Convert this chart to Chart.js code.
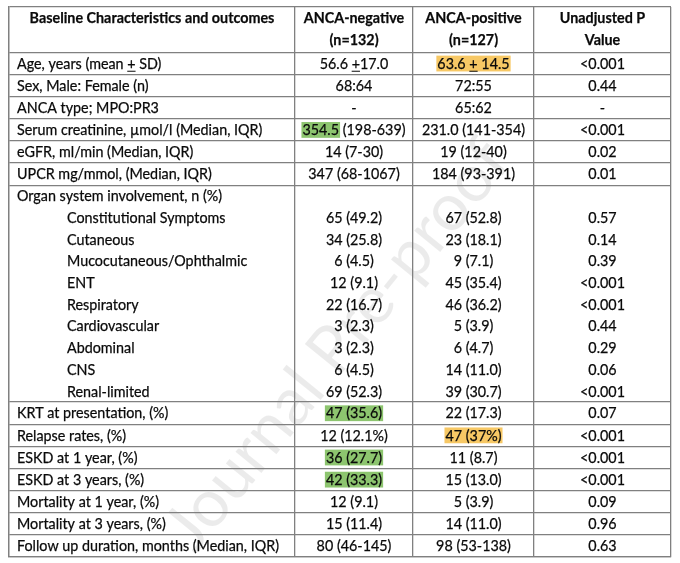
<!DOCTYPE html>
<html>
<head>
<meta charset="utf-8">
<script src="https://cdn.jsdelivr.net/npm/chart.js@4.4.1/dist/chart.umd.min.js"></script>
<style>
  html, body { margin: 0; padding: 0; background: #fff; }
  #wrap { width: 680px; height: 563px; }
</style>
</head>
<body>
<div id="wrap"><canvas id="tableChart"></canvas></div>
<script>
// table content
const headerLines = [
  ['Baseline Characteristics and outcomes'],
  ['ANCA-negative', '(n=132)'],
  ['ANCA-positive', '(n=127)'],
  ['Unadjusted P', 'Value']
];

const characteristics = [
  'Age, years (mean + SD)',
  'Sex, Male: Female (n)',
  'ANCA type; MPO:PR3',
  'Serum creatinine, µmol/l (Median, IQR)',
  'eGFR, ml/min (Median, IQR)',
  'UPCR mg/mmol, (Median, IQR)',
  'Organ system involvement, n (%)',
  'Constitutional Symptoms',
  'Cutaneous',
  'Mucocutaneous/Ophthalmic',
  'ENT',
  'Respiratory',
  'Cardiovascular',
  'Abdominal',
  'CNS',
  'Renal-limited',
  'KRT at presentation, (%)',
  'Relapse rates, (%)',
  'ESKD at 1 year, (%)',
  'ESKD at 3 years, (%)',
  'Mortality at 1 year, (%)',
  'Mortality at 3 years, (%)',
  'Follow up duration, months (Median, IQR)'
];

const ancaNegative = ['56.6 +17.0', '68:64', '-', '354.5 (198-639)', '14 (7-30)', '347 (68-1067)', '',
  '65 (49.2)', '34 (25.8)', '6 (4.5)', '12 (9.1)', '22 (16.7)', '3 (2.3)', '3 (2.3)', '6 (4.5)', '69 (52.3)',
  '47 (35.6)', '12 (12.1%)', '36 (27.7)', '42 (33.3)', '12 (9.1)', '15 (11.4)', '80 (46-145)'];

const ancaPositive = ['63.6 + 14.5', '72:55', '65:62', '231.0 (141-354)', '19 (12-40)', '184 (93-391)', '',
  '67 (52.8)', '23 (18.1)', '9 (7.1)', '45 (35.4)', '46 (36.2)', '5 (3.9)', '6 (4.7)', '14 (11.0)', '39 (30.7)',
  '22 (17.3)', '47 (37%)', '11 (8.7)', '15 (13.0)', '5 (3.9)', '14 (11.0)', '98 (53-138)'];

const pValues = ['<0.001', '0.44', '-', '<0.001', '0.02', '0.01', '',
  '0.57', '0.14', '0.39', '<0.001', '<0.001', '0.44', '0.29', '0.06', '<0.001',
  '0.07', '<0.001', '<0.001', '<0.001', '0.09', '0.96', '0.63'];

// these sit indented inside the "Organ system involvement" cell
const organSystems = ['Constitutional Symptoms', 'Cutaneous', 'Mucocutaneous/Ophthalmic', 'ENT',
  'Respiratory', 'Cardiovascular', 'Abdominal', 'CNS', 'Renal-limited'];
const groupHeading = 'Organ system involvement, n (%)';

const highlights = [
  { row: 'Age, years (mean + SD)', column: 2, text: '63.6 + 14.5', tone: 'orange' },
  { row: 'Serum creatinine, µmol/l (Median, IQR)', column: 1, text: '354.5', tone: 'green' },
  { row: 'KRT at presentation, (%)', column: 1, text: '47 (35.6)', tone: 'green' },
  { row: 'Relapse rates, (%)', column: 2, text: '47 (37%)', tone: 'orange' },
  { row: 'ESKD at 1 year, (%)', column: 1, text: '36 (27.7)', tone: 'green' },
  { row: 'ESKD at 3 years, (%)', column: 1, text: '42 (33.3)', tone: 'green' }
];

const watermark = 'Journal Pre-proof';

// layout
const colWidths = [286, 118, 121, 137];
const headerSpan = 2.05;
const groupLine = 0.98;
const FONT = 'Lato, "Open Sans", sans-serif';
const FONT_SIZE = 15;
const LINE = '#808080';
const TEXT = '#0a0a0a';
const TONES = { green: '#8dc56f', orange: '#f7c865' };

const colEdges = [0];
colWidths.forEach(w => colEdges.push(colEdges[colEdges.length - 1] + w));

const columns = [characteristics, ancaNegative, ancaPositive, pValues];
const inGroup = label => label === groupHeading || organSystems.includes(label);

// row tops/heights in row units, and the borders between rows
const rowTop = [];
const rowHeight = [];
const rowEdges = [0, headerSpan];
let pos = headerSpan;
characteristics.forEach((label, i) => {
  const h = inGroup(label) ? groupLine : 1;
  rowTop.push(pos);
  rowHeight.push(h);
  pos += h;
  const next = characteristics[i + 1];
  if (!(inGroup(label) && next && organSystems.includes(next))) rowEdges.push(pos);
});
const totalRows = pos;

let sx = 1;

function drawText(ctx, str, x, y, align) {
  ctx.save();
  ctx.translate(x, y);
  ctx.scale(sx, 1);
  ctx.textAlign = align;
  ctx.fillText(str, 0, 0);
  ctx.strokeText(str, 0, 0);
  ctx.restore();
}

function textStart(ctx, str, x, align) {
  return align === 'center' ? x - ctx.measureText(str).width * sx / 2 : x;
}

const tablePlugin = {
  id: 'tableCells',
  beforeDraw(chart) {
    const ctx = chart.ctx;
    const a = chart.chartArea;
    ctx.save();
    ctx.font = '100px ' + FONT;
    const size = 100 * 505 / ctx.measureText(watermark).width;
    ctx.font = size + 'px ' + FONT;
    ctx.translate(a.left + 0.496 * (a.right - a.left), a.top + 0.615 * (a.bottom - a.top));
    ctx.rotate(-51 * Math.PI / 180);
    ctx.fillStyle = 'rgba(0,0,0,0.08)';
    ctx.textAlign = 'center';
    ctx.textBaseline = 'middle';
    ctx.fillText(watermark, 0, 0);
    ctx.restore();
  },
  afterDraw(chart) {
    const ctx = chart.ctx;
    const xs = chart.scales.x;
    const ys = chart.scales.y;
    ctx.save();
    ctx.font = FONT_SIZE + 'px ' + FONT;
    sx = 262 / ctx.measureText('Follow up duration, months (Median, IQR)').width;

    const colLeft = c => xs.getPixelForValue(colEdges[c]);
    const colMid = c => xs.getPixelForValue((colEdges[c] + colEdges[c + 1]) / 2);

    // header
    ctx.font = 'bold ' + FONT_SIZE + 'px ' + FONT;
    ctx.fillStyle = TEXT;
    ctx.strokeStyle = TEXT;
    ctx.lineWidth = 0.25;
    ctx.textBaseline = 'alphabetic';
    headerLines.forEach((lines, c) => {
      lines.forEach((str, k) => {
        const y = ys.getPixelForValue(0.5 + k) + 5.3;
        drawText(ctx, str, colMid(c), y, 'center');
      });
    });

    ctx.font = FONT_SIZE + 'px ' + FONT;
    // highlight boxes first
    highlights.forEach(h => {
      const r = characteristics.indexOf(h.row);
      const full = columns[h.column][r];
      const cy = ys.getPixelForValue(rowTop[r] + rowHeight[r] / 2);
      const start = textStart(ctx, full, colMid(h.column), 'center');
      const off = ctx.measureText(full.slice(0, full.indexOf(h.text))).width * sx;
      const w = ctx.measureText(h.text).width * sx;
      ctx.fillStyle = TONES[h.tone];
      ctx.fillRect(start + off - 1, cy - 7.8, w + 2, 15.8);
    });

    ctx.fillStyle = TEXT;
    columns.forEach((col, c) => {
      col.forEach((str, r) => {
        if (!str) return;
        const cy = ys.getPixelForValue(rowTop[r] + rowHeight[r] / 2);
        const y = cy + 5.3;
        let x, align;
        if (c === 0) {
          x = colLeft(0) + (organSystems.includes(str) ? 58 : 8);
          align = 'left';
        } else {
          x = colMid(c);
          align = 'center';
        }
        ctx.lineWidth = 0.25;
        drawText(ctx, str, x, y, align);
        const p = str.indexOf('+');
        if (p >= 0) {
          const s = textStart(ctx, str, x, align) + ctx.measureText(str.slice(0, p)).width * sx;
          const pw = ctx.measureText('+').width * sx;
          ctx.lineWidth = 1;
          ctx.beginPath();
          ctx.moveTo(s, y + 2.5);
          ctx.lineTo(s + pw, y + 2.5);
          ctx.stroke();
        }
      });
    });
    ctx.restore();
  }
};

const ctx = document.getElementById('tableChart');

new Chart(ctx, {
  type: 'scatter',
  data: { datasets: [] },
  options: {
    responsive: true,
    maintainAspectRatio: false,
    animation: false,
    layout: {
      padding: { left: 9, right: 9, top: 7, bottom: 6 }
    },
    plugins: {
      legend: { display: false },
      tooltip: { enabled: false }
    },
    scales: {
      x: {
        type: 'linear',
        min: 0,
        max: colEdges[colEdges.length - 1],
        afterBuildTicks: s => { s.ticks = colEdges.map(v => ({ value: v })); },
        ticks: { display: false },
        grid: { color: LINE, lineWidth: 1.3, drawTicks: false },
        border: { color: LINE, width: 1.3 }
      },
      y: {
        type: 'linear',
        reverse: true,
        min: 0,
        max: totalRows,
        afterBuildTicks: s => { s.ticks = rowEdges.map(v => ({ value: v })); },
        ticks: { display: false },
        grid: { color: LINE, lineWidth: 1.3, drawTicks: false },
        border: { color: LINE, width: 1.3 }
      }
    }
  },
  plugins: [tablePlugin]
});
</script>
</body>
</html>
